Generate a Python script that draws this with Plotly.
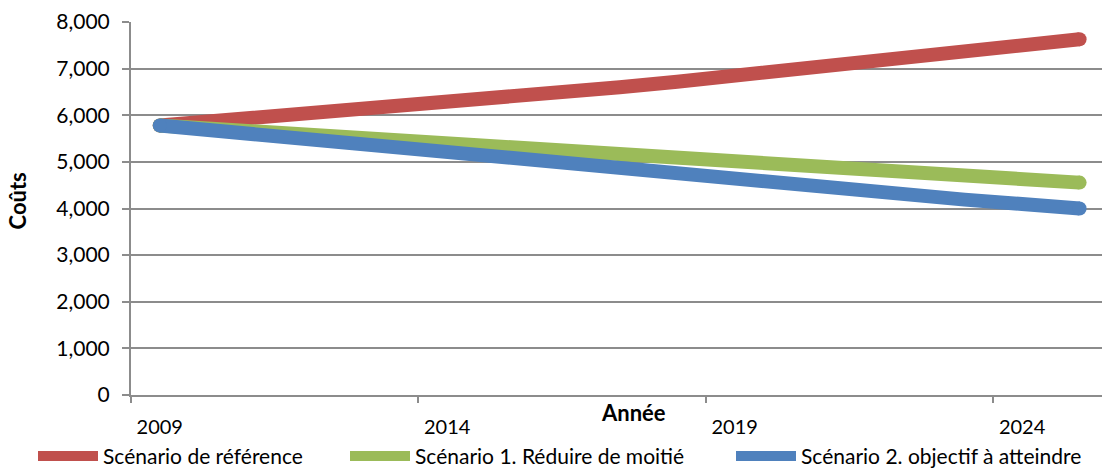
import plotly.graph_objects as go

# Projected costs per year for each scenario
years = list(range(2009, 2026))
reference = [5780, 5875, 5970, 6070, 6170, 6270, 6380, 6490, 6600, 6720,
             6840, 6970, 7100, 7235, 7375, 7515, 7630]
scenario_half = [5780, 5705, 5630, 5555, 5480, 5410, 5330, 5245, 5165, 5080,
                 5000, 4920, 4835, 4755, 4670, 4590, 4555]
scenario_target = [5780, 5665, 5550, 5435, 5325, 5215, 5090, 4965, 4840, 4715,
                   4590, 4490, 4390, 4290, 4190, 4095, 4000]

series_names = ["Scénario de référence",
                "Scénario 1. Réduire de moitié",
                "Scénario 2. objectif à atteindre"]
series_colors = ["#C0504D", "#9BBB59", "#4F81BD"]

label_ticks = [2009, 2014, 2019, 2024]
boundary_ticks = [2008.5, 2013.5, 2018.5, 2023.5]
y_ticks = [0, 1000, 2000, 3000, 4000, 5000, 6000, 7000, 8000]

FONT = "Lato"
LINE_W = 14
W, H = 1102, 471

# each series gets its own legend box along the bottom
legend_ids = ["legend", "legend2", "legend3"]
legend_left_px = [33, 345, 731]

fig = go.Figure()
for name, values, color, lg in zip(series_names,
                                   [reference, scenario_half, scenario_target],
                                   series_colors, legend_ids):
    # round caps at both ends of each line
    cap_sizes = [LINE_W] + [0] * (len(values) - 2) + [LINE_W]
    fig.add_trace(go.Scatter(
        x=years, y=values, name=name, mode="lines+markers", legend=lg,
        line=dict(color=color, width=LINE_W),
        marker=dict(color=color, size=cap_sizes, opacity=1, line=dict(width=0)),
    ))

grid_color = "#8c8c8c"

legend_style = dict(
    orientation="h", xref="container", yref="container",
    y=0.031, xanchor="left", yanchor="middle",
    font=dict(family=FONT, size=21, color="black"),
    itemwidth=60, bgcolor="rgba(0,0,0,0)",
)

fig.update_layout(
    width=W, height=H,
    margin=dict(l=131, r=0, t=22, b=76, autoexpand=False),
    plot_bgcolor="white", paper_bgcolor="white",
    font=dict(family=FONT, color="black", size=20),
    showlegend=True,
    xaxis=dict(
        range=[2008.5, 2025.39],
        tickvals=label_ticks, ticktext=[str(v) for v in label_ticks],
        ticks="outside", ticklen=13, tickcolor="rgba(0,0,0,0)",
        showgrid=False, zeroline=False,
        showline=True, linecolor=grid_color, linewidth=2,
        minor=dict(tickvals=boundary_ticks, ticks="outside", ticklen=6,
                   tickcolor=grid_color, tickwidth=2, showgrid=False),
        tickfont=dict(family=FONT, size=20),
    ),
    yaxis=dict(
        range=[0, 8000],
        tickvals=y_ticks, tickformat=",d",
        ticks="outside", ticklen=7, tickcolor=grid_color, tickwidth=2,
        ticklabelstandoff=8,
        showgrid=True, gridcolor=grid_color, gridwidth=2,
        zeroline=False,
        showline=True, linecolor=grid_color, linewidth=2,
        tickfont=dict(family=FONT, size=21),
    ),
    annotations=[
        dict(text="<b>Coûts</b>", textangle=-90, xref="paper", yref="paper",
             x=-0.117, y=0.52, xanchor="center", yanchor="middle",
             showarrow=False, font=dict(family=FONT, size=22)),
        dict(text="<b>Année</b>", xref="paper", yref="paper",
             x=0.518, y=-0.048, xanchor="center", yanchor="middle",
             showarrow=False, font=dict(family=FONT, size=22)),
    ],
)

for lg, left in zip(legend_ids, legend_left_px):
    fig.update_layout({lg: dict(legend_style, x=left / W)})

fig.write_html("out.html")
